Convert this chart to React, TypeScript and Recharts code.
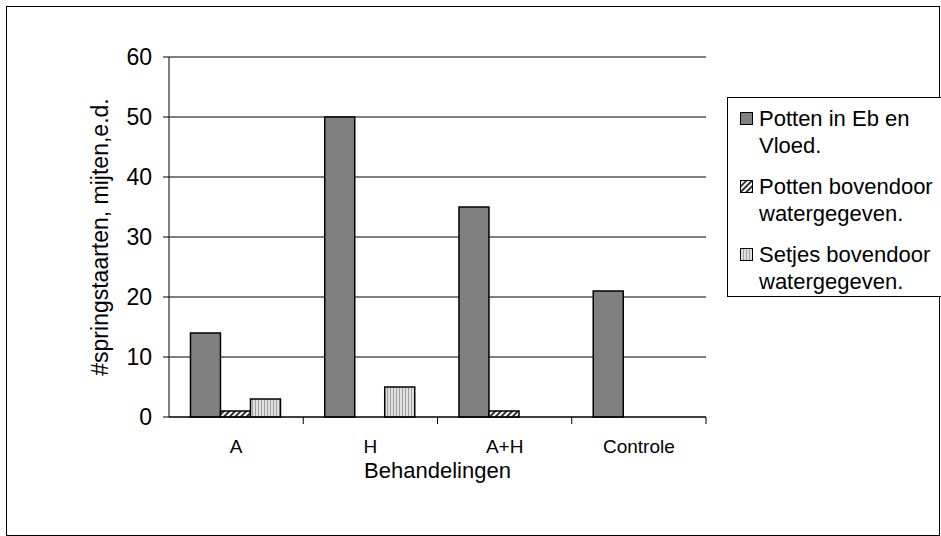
import React from 'react';
import { BarChart, Bar, XAxis, YAxis, CartesianGrid, ReferenceLine } from 'recharts';

const categories = ['A', 'H', 'A+H', 'Controle'];
const ebVloed = [14, 50, 35, 21];
const pottenBoven = [1, 0, 1, 0];
const setjesBoven = [3, 5, 0, 0];
const yTicks = [0, 10, 20, 30, 40, 50, 60];

const seriesNames = {
  eb: 'Potten in Eb en Vloed.',
  potten: 'Potten bovendoor watergegeven.',
  setjes: 'Setjes bovendoor watergegeven.',
};

const data = categories.map((c, i) => ({
  name: c,
  eb: ebVloed[i],
  potten: pottenBoven[i],
  setjes: setjesBoven[i],
}));

const W = 941;
const H = 536;
const MARGIN = { top: 57, right: 235, bottom: 59, left: 0 };
const Y_AXIS_W = 169;
const PLOT_W = W - MARGIN.right - Y_AXIS_W;
const TICK_SIZE = 7;
const TICK_MARGIN = 16;
const FONT = '"Liberation Sans", Arial, sans-serif';

// category labels in the middle, small tick marks on the category borders
const XTick = (props: any) => {
  const { x, y, payload } = props;
  const band = PLOT_W / categories.length;
  const axisY = y - TICK_SIZE - TICK_MARGIN;
  return (
    <g>
      <line x1={x + band / 2} x2={x + band / 2} y1={axisY} y2={axisY + TICK_SIZE} stroke="#000" />
      <text x={x} y={y} dy="0.71em" textAnchor="middle" fontSize={19} fill="#000" fontFamily={FONT}>
        {payload.value}
      </text>
    </g>
  );
};

const YLabel = (props: any) => {
  const { viewBox } = props;
  const cx = 100;
  const cy = viewBox.y + viewBox.height / 2;
  return (
    <text x={cx} y={cy} transform={`rotate(-90 ${cx} ${cy})`} textAnchor="middle" dominantBaseline="central"
      fontSize={23} fontFamily={FONT} fill="#000">
      #springstaarten, mijten,e.d.
    </text>
  );
};

const legendItems = [
  { key: 'eb', lines: ['Potten in Eb en', 'Vloed.'], fill: '#808080' },
  { key: 'potten', lines: ['Potten bovendoor', 'watergegeven.'], fill: 'url(#hatch)' },
  { key: 'setjes', lines: ['Setjes bovendoor', 'watergegeven.'], fill: 'url(#vstripe)' },
];

const LegendBox = () => (
  <div style={{ border: '1px solid #000', width: 230, height: 200, boxSizing: 'border-box', padding: '7px 0 0 12px', fontFamily: FONT, fontSize: 22, lineHeight: '27px', background: '#fff' }}>
    {legendItems.map((it) => (
      <div key={it.key} style={{ display: 'flex', alignItems: 'flex-start', marginBottom: 14 }}>
        <svg width={13} height={13} style={{ marginTop: 7, marginRight: 6, flex: 'none' }}>
          <rect x={0.5} y={0.5} width={12} height={12} fill={it.fill} stroke="#000" />
        </svg>
        <div>
          {it.lines.map((l) => (
            <div key={l}>{l}</div>
          ))}
        </div>
      </div>
    ))}
  </div>
);

export default function App() {
  return (
    <div style={{ position: 'absolute', left: 0, top: 0, width: W, height: H, background: '#fff', overflow: 'hidden' }}>
      <svg width={0} height={0} style={{ position: 'absolute' }}>
        <defs>
          <pattern id="hatch" width={4} height={4} patternUnits="userSpaceOnUse" patternTransform="rotate(45)">
            <rect width={4} height={4} fill="#fff" />
            <rect width={2} height={4} fill="#333" />
          </pattern>
          <pattern id="vstripe" width={3} height={4} patternUnits="userSpaceOnUse">
            <rect width={3} height={4} fill="#e0e0e0" />
            <rect width={1} height={4} fill="#a0a0a0" />
          </pattern>
        </defs>
      </svg>
      <div style={{ position: 'absolute', left: 6, top: 6, width: 934, height: 530, border: '1px solid #000', boxSizing: 'border-box' }} />
      <div style={{ position: 'absolute', left: 0, top: 0 }}>
        <BarChart width={W} height={H} data={data} margin={MARGIN} barCategoryGap="16%" barGap={0}>
          <CartesianGrid vertical={false} stroke="#000" strokeWidth={1} />
          <XAxis
            dataKey="name"
            height={60}
            stroke="#000"
            tickLine={false}
            tickSize={TICK_SIZE}
            tickMargin={TICK_MARGIN}
            tick={<XTick />}
            interval={0}
            label={{ value: 'Behandelingen', position: 'insideBottom', offset: -1, fontSize: 22, fill: '#000', fontFamily: FONT }}
          />
          <YAxis
            width={Y_AXIS_W}
            domain={[0, 60]}
            ticks={yTicks}
            stroke="#000"
            tickSize={6}
            tickMargin={11}
            tick={{ fontSize: 23, fill: '#000', fontFamily: FONT }}
            label={<YLabel />}
          />
          <YAxis yAxisId="r" orientation="right" width={0} domain={[0, 60]} tick={false} tickLine={false} stroke="#808080" />
          <ReferenceLine y={60} stroke="#808080" />
          <Bar dataKey="eb" name={seriesNames.eb} fill="#808080" stroke="#000" strokeWidth={1.5} isAnimationActive={false} />
          <Bar dataKey="potten" name={seriesNames.potten} fill="url(#hatch)" stroke="#000" strokeWidth={1.5} isAnimationActive={false} />
          <Bar dataKey="setjes" name={seriesNames.setjes} fill="url(#vstripe)" stroke="#000" strokeWidth={1.5} isAnimationActive={false} />
        </BarChart>
      </div>
      <div style={{ position: 'absolute', left: 727, top: 97 }}>
        <LegendBox />
      </div>
    </div>
  );
}
